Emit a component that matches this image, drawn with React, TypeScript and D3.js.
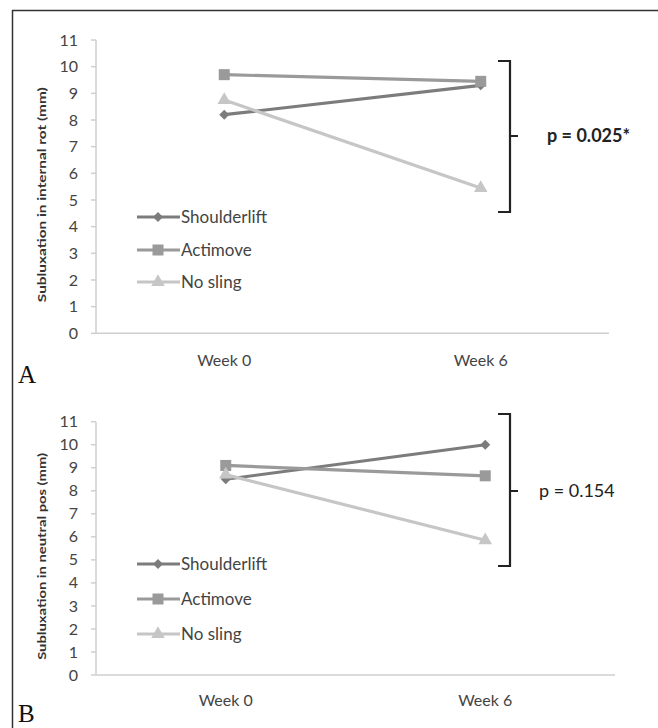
import React from "react";
import * as d3 from "d3";

const weeks = ["Week 0", "Week 6"];
const seriesNames = ["Shoulderlift", "Actimove", "No sling"];
const yTicks = [0, 1, 2, 3, 4, 5, 6, 7, 8, 9, 10, 11];

// Panel A: subluxation in internal rotation (mm)
const internalShoulderlift = [8.2, 9.3];
const internalActimove = [9.7, 9.45];
const internalNoSling = [8.75, 5.45];

// Panel B: subluxation in neutral position (mm)
const neutralShoulderlift = [8.5, 10.0];
const neutralActimove = [9.1, 8.65];
const neutralNoSling = [8.7, 5.85];

const pLabels = ["p = 0.025*", "p = 0.154"];
const yTitles = ["Subluxation in internal rot (mm)", "Subluxation in neutral pos (mm)"];
const panelLetters = ["A", "B"];

const colors = ["#7c7c7c", "#9a9a9a", "#c6c6c6"];
const FONT = "Lato, 'Open Sans', sans-serif";

type PanelProps = {
  series: number[][];
  yTop: number;
  yBottom: number;
  xLeft: number;
  xRight: number;
  legendYs: number[];
  bracket: { top: number; bottom: number; mid: number };
  pLabel: string;
  pBold: boolean;
  title: string;
  titleLen: number;
  letter: string;
  letterY: number;
  weekY: number;
};

function Marker({ kind, x, y, color }: { kind: number; x: number; y: number; color: string }) {
  if (kind === 0) {
    const s = 5;
    return <path d={`M${x},${y - s}L${x + s},${y}L${x},${y + s}L${x - s},${y}Z`} fill={color} />;
  }
  if (kind === 1) {
    return <rect x={x - 5.5} y={y - 5.5} width={11} height={11} fill={color} />;
  }
  const sym = d3.symbol().type(d3.symbolTriangle).size(80)();
  return <path d={sym || ""} transform={`translate(${x},${y})`} fill={color} />;
}

function Panel(p: PanelProps) {
  const x = d3.scaleBand<string>().domain(weeks).range([p.xLeft, p.xRight]);
  const y = d3.scaleLinear().domain([0, 11]).range([p.yBottom, p.yTop]);
  const line = d3
    .line<number>()
    .x((_, i) => (x(weeks[i]) as number) + x.bandwidth() / 2)
    .y((v) => y(v));
  const b = p.bracket;
  return (
    <g>
      <line x1={p.xLeft} x2={p.xLeft} y1={y(11)} y2={y(0)} stroke="#cfcfcf" strokeWidth={1.5} />
      <line x1={p.xLeft} x2={p.xRight} y1={y(0)} y2={y(0)} stroke="#cfcfcf" strokeWidth={1.5} />
      {yTicks.map((t) => (
        <g key={t}>
          <line x1={p.xLeft - 5} x2={p.xLeft} y1={y(t)} y2={y(t)} stroke="#cfcfcf" strokeWidth={1.5} />
          <text
            x={p.xLeft - 18}
            y={y(t)}
            dy="0.35em"
            textAnchor="end"
            fontSize={16}
            fill="#444"
            fontFamily={FONT}
          >
            {t}
          </text>
        </g>
      ))}
      {weeks.map((w) => (
        <text
          key={w}
          x={(x(w) as number) + x.bandwidth() / 2}
          y={p.weekY}
          textAnchor="middle"
          fontSize={16}
          fill="#444"
          fontFamily={FONT}
        >
          {w}
        </text>
      ))}
      <text
        transform={`translate(46,${(y(0) + y(11)) / 2 + 8}) rotate(-90)`}
        textAnchor="middle"
        fontSize={11}
        fontWeight="bold"
        fill="#333"
        fontFamily={FONT}
        textLength={p.titleLen}
        lengthAdjust="spacingAndGlyphs"
      >
        {p.title}
      </text>
      {p.series.map((vals, si) => (
        <g key={si}>
          <path d={line(vals) || ""} fill="none" stroke={colors[si]} strokeWidth={3.2} />
          {vals.map((v, i) => (
            <Marker
              key={i}
              kind={si}
              x={(x(weeks[i]) as number) + x.bandwidth() / 2}
              y={y(v)}
              color={colors[si]}
            />
          ))}
        </g>
      ))}
      {seriesNames.map((n, si) => (
        <g key={n}>
          <line x1={137} x2={180} y1={p.legendYs[si]} y2={p.legendYs[si]} stroke={colors[si]} strokeWidth={3.2} />
          <Marker kind={si} x={158} y={p.legendYs[si]} color={colors[si]} />
          <text x={181} y={p.legendYs[si]} dy="0.35em" fontSize={17} fill="#444" fontFamily={FONT}>
            {n}
          </text>
        </g>
      ))}
      <path
        d={`M498,${b.top}H510V${b.bottom}H498M510,${b.mid}H518`}
        fill="none"
        stroke="#222"
        strokeWidth={2.2}
      />
      <text
        x={p.pBold ? 547 : 539}
        y={b.mid}
        dy="0.35em"
        fontSize={p.pBold ? 18 : 18}
        fontWeight={p.pBold ? "bold" : "normal"}
        fill="#222"
        fontFamily={FONT}
      >
        {p.pLabel}
      </text>
      <text x={18} y={p.letterY} fontSize={25} fill="#111" fontFamily="'Liberation Serif', 'DejaVu Serif', serif">
        {p.letter}
      </text>
    </g>
  );
}

export default function App() {
  return (
    <svg
      width={658}
      height={728}
      style={{ position: "absolute", left: 0, top: 0, background: "#fff" }}
    >
      <rect x={0} y={0} width={658} height={728} fill="#fff" />
      <line x1={12.5} x2={12.5} y1={10} y2={728} stroke="#333" strokeWidth={1.5} />
      <line x1={12} x2={658} y1={10.5} y2={10.5} stroke="#333" strokeWidth={1.5} />
      <Panel
        series={[internalShoulderlift, internalActimove, internalNoSling]}
        yTop={40}
        yBottom={333.3}
        xLeft={96}
        xRight={609}
        legendYs={[217, 250, 282]}
        bracket={{ top: 61, bottom: 212, mid: 136 }}
        pLabel={pLabels[0]}
        pBold={true}
        title={yTitles[0]}
        titleLen={215}
        letter={panelLetters[0]}
        letterY={383}
        weekY={366}
      />
      <Panel
        series={[neutralShoulderlift, neutralActimove, neutralNoSling]}
        yTop={421.7}
        yBottom={675}
        xLeft={96}
        xRight={615}
        legendYs={[564, 599, 634]}
        bracket={{ top: 414, bottom: 566, mid: 491 }}
        pLabel={pLabels[1]}
        pBold={false}
        title={yTitles[1]}
        titleLen={207}
        letter={panelLetters[1]}
        letterY={722}
        weekY={706}
      />
    </svg>
  );
}
